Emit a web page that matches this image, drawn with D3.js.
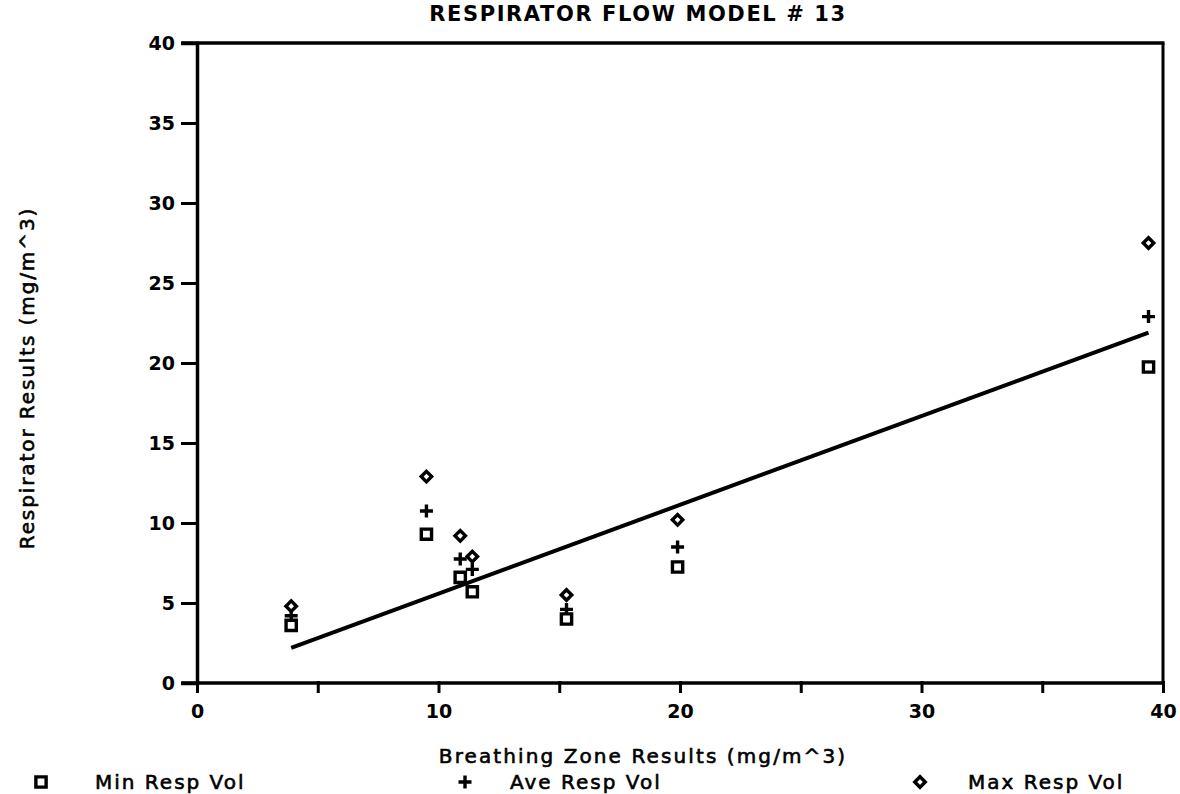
<!DOCTYPE html>
<html>
<head>
<meta charset="utf-8">
<script src="https://cdn.jsdelivr.net/npm/d3@7"></script>
<style>
  body { margin: 0; background: #fff; }
  svg { display: block; font-family: "DejaVu Sans", "Liberation Sans", sans-serif; }
</style>
</head>
<body>
<svg id="chart" width="1180" height="794"></svg>
<script>
// values
var bzValues = [3.9, 9.5, 10.9, 11.4, 15.3, 19.9, 39.4];
var minResp = [3.6, 9.3, 6.6, 5.7, 4.0, 7.25, 19.75];
var aveResp = [4.2, 10.75, 7.75, 7.1, 4.6, 8.5, 22.9];
var maxResp = [4.8, 12.9, 9.2, 7.9, 5.5, 10.2, 27.5];
var fitLine = [[3.9, 2.2], [39.4, 21.9]];
var xTicks = [0, 5, 10, 15, 20, 25, 30, 35, 40];
var yTicks = [0, 5, 10, 15, 20, 25, 30, 35, 40];
var legendNames = ["Min Resp Vol", "Ave Resp Vol", "Max Resp Vol"];

var svg = d3.select("#chart");
var margin = { top: 43, left: 197, right: 17, bottom: 111 };
var width = 1180 - margin.left - margin.right;
var height = 794 - margin.top - margin.bottom;

var x = d3.scaleLinear().domain([0, 40]).range([0, width]);
var y = d3.scaleLinear().domain([0, 40]).range([height, 0]);

var g = svg.append("g")
           .attr("transform", "translate(" + margin.left + "," + margin.top + ")");

// frame lines on top and right
g.append("line")
 .attr("x1", -16).attr("x2", width + 1.5).attr("y1", 0).attr("y2", 0)
 .attr("stroke", "#000").attr("stroke-width", 3.5);
g.append("line")
 .attr("x1", width).attr("x2", width).attr("y1", 0).attr("y2", height)
 .attr("stroke", "#000").attr("stroke-width", 3);

// x axis
var xAxis = d3.axisBottom(x).tickValues(xTicks).tickSize(10).tickPadding(12)
              .tickFormat(function(d) { return d % 10 === 0 ? d : ""; });
var xg = g.append("g").attr("transform", "translate(0," + height + ")").call(xAxis);

// y axis
var yAxis = d3.axisLeft(y).tickValues(yTicks).tickSize(16).tickPadding(6);
var yg = g.append("g").call(yAxis);

[xg, yg].forEach(function(a) {
  a.select(".domain").attr("stroke-width", 3.5);
  a.selectAll(".tick line").attr("stroke-width", 3);
  a.selectAll(".tick text")
   .style("font-family", "DejaVu Sans")
   .style("font-size", "19px")
   .style("font-weight", "bold")
   .attr("fill", "#000");
});
xg.select(".domain").attr("d", "M-16,0H" + width);
xg.selectAll(".tick line").attr("y1", -2);

// regression line
g.append("path")
 .datum(fitLine)
 .attr("fill", "none")
 .attr("stroke", "#000")
 .attr("stroke-width", 4)
 .attr("d", d3.line().x(function(d) { return x(d[0]); }).y(function(d) { return y(d[1]); }));

var sq = d3.symbol().type(d3.symbolSquare).size(105);
var dia = d3.symbol().type(d3.symbolSquare).size(55);
var plusPath = "M-6.5,0H6.5M0,-6.5V6.5";

function markPath(kind) {
  return kind === "sq" ? sq() : (kind === "dia" ? dia() : plusPath);
}

function drawMarks(values, kind) {
  g.selectAll(".m-" + kind)
   .data(values)
   .enter().append("path")
   .attr("class", "m-" + kind)
   .attr("transform", function(d, i) {
     return "translate(" + x(bzValues[i]) + "," + y(d) + ")" + (kind === "dia" ? " rotate(45)" : "");
   })
   .attr("d", markPath(kind))
   .attr("fill", kind === "plus" ? "none" : "#fff")
   .attr("stroke", "#000")
   .attr("stroke-width", 3.4);
}
drawMarks(aveResp, "plus");
drawMarks(minResp, "sq");
drawMarks(maxResp, "dia");

// title and axis labels
svg.append("text")
   .attr("x", 638).attr("y", 21)
   .attr("text-anchor", "middle")
   .style("font-size", "21px")
   .style("font-weight", "bold")
   .style("letter-spacing", "1.6px")
   .text("RESPIRATOR FLOW MODEL # 13");

svg.append("text")
   .attr("x", 643).attr("y", 763)
   .attr("text-anchor", "middle")
   .style("font-size", "20px")
   .style("letter-spacing", "2.1px")
   .attr("stroke", "#000").attr("stroke-width", 0.6)
   .text("Breathing Zone Results (mg/m^3)");

svg.append("text")
   .attr("transform", "translate(34,378) rotate(-90)")
   .attr("text-anchor", "middle")
   .style("font-size", "20px")
   .style("letter-spacing", "1.9px")
   .attr("stroke", "#000").attr("stroke-width", 0.6)
   .text("Respirator Results (mg/m^3)");

// legend
var legendX = [41, 465, 920];
var legendTextX = [95, 510, 968];
var legendKinds = ["sq", "plus", "dia"];
legendNames.forEach(function(name, i) {
  var lg = svg.append("g").attr("transform", "translate(" + legendX[i] + ",782)");
  lg.append("path")
    .attr("d", markPath(legendKinds[i]))
    .attr("transform", legendKinds[i] === "dia" ? "rotate(45)" : null)
    .attr("fill", legendKinds[i] === "plus" ? "none" : "#fff")
    .attr("stroke", "#000")
    .attr("stroke-width", 3.4);
  lg.append("text")
    .attr("x", legendTextX[i] - legendX[i]).attr("y", 7)
    .style("font-size", "20px")
    .style("letter-spacing", "2px")
    .attr("stroke", "#000").attr("stroke-width", 0.6)
    .text(name);
});
</script>
</body>
</html>
